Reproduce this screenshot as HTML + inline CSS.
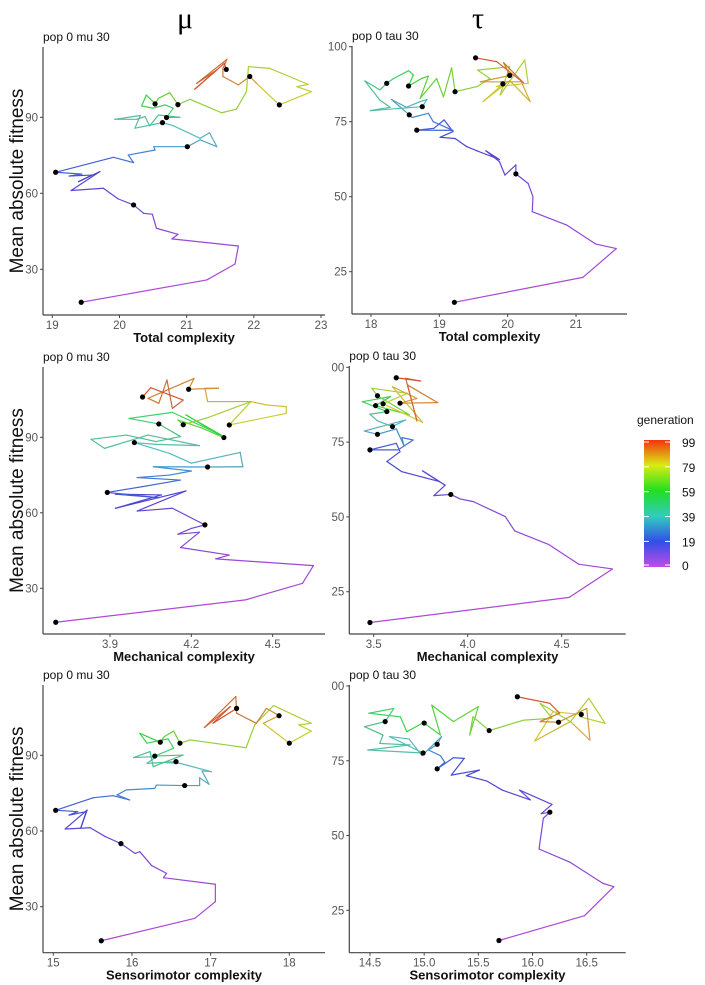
<!DOCTYPE html>
<html><head><meta charset="utf-8"><style>
html,body{margin:0;padding:0;background:#fff;}
svg{display:block;font-family:"Liberation Sans",sans-serif;}
</style></head><body>
<svg id="chart" width="705" height="985" viewBox="0 0 705 985" xmlns="http://www.w3.org/2000/svg">
<defs>
<linearGradient id="gen-grad" x1="0" y1="1" x2="0" y2="0">
<stop offset="0" stop-color="hsl(285,75%,60%)"/>
<stop offset="0.2" stop-color="hsl(230,80%,55%)"/>
<stop offset="0.4" stop-color="hsl(175,60%,50%)"/>
<stop offset="0.6" stop-color="hsl(120,75%,50%)"/>
<stop offset="0.8" stop-color="hsl(65,85%,50%)"/>
<stop offset="1" stop-color="hsl(10,90%,50%)"/>
</linearGradient>
</defs>
<text x="185" y="28" font-size="30" text-anchor="middle" font-family="Liberation Serif, serif">μ</text>
<text x="478" y="28" font-size="30" text-anchor="middle" font-family="Liberation Serif, serif">τ</text>
<g id="panels"></g>
<g>
<text x="637" y="424" font-size="12" fill="#111">generation</text>
<rect x="644" y="440" width="26" height="127" fill="url(#gen-grad)"/>
<g id="legend-labels"></g>
</g>
</svg>
<script>
// ---- Panel A: Total complexity, mu ----
const aX=[19.43,21.30,21.72,21.77,20.78,20.87,20.55,20.49,20.36,20.21,19.98,19.76,19.28,19.71,19.39,19.59,19.25,19.44,19.05,19.91,20.21,20.13,20.53,20.51,21.01,21.20,21.45,21.34,21.20,20.80,20.64,20.23,20.31,19.93,20.26,20.38,20.45,20.58,20.90,20.70,20.80,20.68,20.50,20.33,20.40,20.53,20.58,20.75,20.87,21.05,21.52,21.74,21.89,21.92,22.24,22.81,22.64,22.86,22.38,22.04,21.94,21.77,21.54,21.54,21.60,21.15,21.45,21.12,21.56,21.59];
const aY=[17.0,25.8,32.1,39.2,42.0,43.8,46.2,51.7,52.1,55.4,57.8,62.0,61.1,68.6,64.6,67.2,66.8,67.6,68.3,74.2,72.1,75.1,77.1,78.4,78.4,81.1,78.4,83.9,81.7,86.7,87.9,85.7,90.7,89.2,89.2,90.3,86.6,90.9,90.0,89.9,93.6,94.9,93.6,94.5,98.8,95.3,97.5,99.7,95.0,97.1,91.8,93.2,100.1,110.0,109.3,103.0,102.1,100.1,94.9,103.4,106.1,102.8,106.1,109.3,112.9,103.4,108.7,101.1,111.3,108.9];
const aDots=[0,9,18,24,30,39,45,48,58,60,69];
const aXTicks=[19,20,21,22,23];
const aXLabels=["19","20","21","22","23"];
// ---- Panel B: Total complexity, tau ----
const bX=[19.22,21.10,21.59,21.29,20.86,20.36,20.37,20.30,20.12,20.12,19.96,19.88,19.68,19.88,19.55,19.40,19.23,19.01,19.20,19.07,18.92,18.67,19.20,18.91,18.84,18.60,18.56,18.30,18.52,18.72,18.82,18.75,17.99,18.28,18.13,17.91,18.13,18.23,18.33,18.55,18.62,18.55,18.74,18.84,18.72,18.96,19.06,19.18,19.23,19.55,19.74,19.56,20.03,19.89,20.25,20.30,19.84,19.93,19.64,20.03,20.33,20.20,19.60,20.03,19.94,20.23,19.84,19.53];
const bY=[14.8,23.1,32.7,34.2,40.6,45.0,50.0,54.4,57.6,60.6,57.2,61.7,65.3,62.4,65.3,66.7,69.4,69.8,71.7,75.6,72.8,72.2,72.1,75.0,77.8,76.4,77.3,82.4,79.8,81.7,82.4,80.0,78.7,79.8,82.2,88.6,85.6,87.8,89.4,92.0,90.6,86.9,89.4,90.2,82.8,89.4,83.3,93.0,85.0,86.7,89.4,92.2,93.3,83.9,95.6,87.8,86.7,87.6,81.7,88.7,81.7,88.3,88.3,90.4,94.7,88.0,95.0,96.3];
const bDots=[0,8,21,26,31,37,41,48,57,63,67];
const bXTicks=[18,19,20,21];
const bXLabels=["18","19","20","21"];
// ---- Panel C: Mechanical complexity, mu ----
const cX=[3.70,4.40,4.61,4.65,4.29,4.34,4.16,4.23,4.15,4.20,4.25,4.13,4.00,4.18,3.92,4.09,3.92,4.08,3.89,4.02,4.16,4.00,4.12,4.20,4.06,4.26,4.39,4.38,4.20,4.12,3.99,4.07,4.23,4.04,3.88,3.83,3.96,4.07,4.16,4.08,3.97,4.13,4.31,4.18,4.32,4.24,4.15,4.17,4.26,4.42,4.34,4.55,4.55,4.48,4.42,4.26,4.25,4.30,4.19,4.21,4.04,4.08,4.11,4.13,4.17,4.05,4.02];
const cY=[16.5,25.4,32.0,39.0,41.7,43.2,46.2,52.3,51.5,53.8,55.2,61.8,60.7,68.7,61.8,67.1,67.4,66.0,68.1,70.4,73.0,74.0,75.0,76.6,78.3,78.2,78.3,84.0,79.7,83.6,87.9,87.2,86.7,90.9,85.6,89.2,90.9,88.3,90.3,95.3,97.5,99.9,90.9,98.9,89.9,93.6,96.9,95.0,97.8,104.2,94.9,99.5,102.2,102.8,104.2,104.2,109.5,109.5,109.1,113.4,105.5,103.5,112.8,101.5,104.8,109.7,106.0];
const cDots=[0,10,18,25,30,39,44,47,50,58,66];
const cXTicks=[3.9,4.2,4.5];
const cXLabels=["3.9","4.2","4.5"];
// ---- Panel D: Mechanical complexity, tau ----
const dX=[3.48,4.54,4.77,4.59,4.43,4.25,4.20,4.03,3.96,3.91,3.82,3.88,3.76,3.85,3.65,3.57,3.64,3.62,3.48,3.63,3.71,3.65,3.66,3.62,3.52,3.45,3.67,3.60,3.52,3.48,3.57,3.44,3.59,3.51,3.69,3.52,3.49,3.68,3.55,3.76,3.60,3.73,3.64,3.84,3.68,3.73,3.67,3.75,3.62];
const dY=[14.7,23.1,32.6,34.2,40.8,45.3,50.1,55.1,56.0,57.5,57.1,60.6,65.4,61.8,65.1,68.5,71.8,74.6,72.4,72.4,75.7,76.5,74.0,79.4,77.6,78.7,82.4,80.2,82.1,84.3,85.2,88.5,90.2,87.2,84.1,90.5,93.0,91.3,87.8,81.6,93.5,89.6,88.0,88.2,94.1,82.1,96.3,95.4,96.5];
const dDots=[0,9,18,24,27,30,33,35,38,42,48];
const dXTicks=[3.5,4.0,4.5];
const dXLabels=["3.5","4.0","4.5"];
// ---- Panel E: Sensorimotor complexity, mu ----
const eX=[15.61,16.80,17.06,17.06,16.40,16.44,16.25,16.10,16.04,15.86,15.66,15.47,15.15,15.43,15.35,15.42,15.20,15.31,15.03,15.51,15.76,15.97,15.81,15.93,16.29,16.31,16.67,16.86,16.86,16.98,16.89,17.01,16.61,16.44,16.56,16.19,16.31,16.02,16.23,16.27,16.65,16.29,16.53,16.46,16.19,16.10,16.36,16.41,16.53,16.61,16.74,17.20,17.45,17.56,17.58,17.80,18.28,18.12,18.28,18.00,17.67,17.87,17.71,17.58,17.33,17.32,16.92,17.25,17.03,17.33];
const eY=[16.5,25.4,32.0,38.9,41.5,43.2,46.3,51.8,51.1,55.0,57.8,61.3,60.8,68.3,61.3,67.7,66.3,67.7,68.2,73.2,74.0,72.3,74.3,76.3,76.9,78.2,78.0,78.0,81.1,78.5,83.8,83.5,86.8,87.1,87.5,86.8,89.5,89.1,91.5,85.5,90.1,89.7,92.8,96.5,94.8,98.7,95.2,97.4,99.6,94.8,96.1,94.1,93.0,102.0,102.7,109.7,102.7,102.0,99.6,94.8,102.7,105.7,108.6,102.7,106.7,113.3,101.0,109.3,102.7,108.6];
const eDots=[0,9,18,26,34,41,46,49,59,61,69];
const eXTicks=[15,16,17,18];
const eXLabels=["15","16","17","18"];
// ---- Panel F: Sensorimotor complexity, tau ----
const fX=[15.69,16.48,16.75,16.65,16.35,16.06,16.10,16.16,16.08,16.18,15.88,15.98,15.72,15.58,15.39,15.51,15.25,15.37,15.27,15.12,15.19,15.15,15.04,15.12,15.16,14.98,14.86,14.68,14.99,14.48,14.87,14.59,14.62,14.45,14.64,14.72,14.49,14.78,14.84,15.01,15.00,15.15,15.07,15.27,15.50,15.42,15.45,15.60,15.92,16.18,16.07,16.35,16.52,16.67,16.44,16.45,16.19,16.02,16.35,16.53,16.50,16.24,16.07,16.25,16.16,15.86];
const fY=[14.9,23.2,32.9,34.0,41.0,45.5,55.8,57.8,57.3,60.4,65.2,61.9,65.2,68.2,70.0,71.9,70.2,75.8,76.0,72.3,74.5,76.7,78.6,80.5,83.1,76.7,82.3,83.1,77.6,78.6,80.3,80.8,83.6,86.4,88.1,92.5,90.9,89.7,84.7,88.1,87.6,83.6,93.6,88.1,93.1,83.6,89.7,85.1,88.6,89.2,94.2,88.1,95.9,87.5,89.7,90.5,91.4,81.6,88.1,81.9,92.5,87.9,88.1,90.9,94.2,96.4];
const fDots=[0,7,19,23,28,34,40,47,55,61,65];
const fXTicks=[14.5,15.0,15.5,16.0,16.5];
const fXLabels=["14.5","15.0","15.5","16.0","16.5"];
// shared
const muYTicks=[30,60,90];
const muYLabels=["30","60","90"];
const tauYTicks=[25,50,75,100];
const tauYLabelsTop=["25","50","75","100"];
const tauYLabels=["25","50","75","00"];
const dotGens=[0,10,20,30,40,50,60,70,80,90,99];
const legendGens=[0,19,39,59,79,99];

const NS="http://www.w3.org/2000/svg";
function mk(tag,attrs,parent){const e=document.createElementNS(NS,tag);for(const k in attrs)e.setAttribute(k,attrs[k]);if(parent)parent.appendChild(e);return e;}
function genColor(g){const t=g/99;const sat=(t>0.3&&t<0.5)?45:62;return "hsl("+(285-275*t)+","+sat+"%,"+(56-6*t)+"%)";}

const panels=[
 {id:"total-mu",X:aX,Y:aY,D:aDots,xt:aXTicks,xl:aXLabels,yt:muYTicks,yl:muYLabels,title:"pop 0 mu 30",xtitle:"Total complexity",
  ax:43,ar:325,top:47,bot:315,x0:19,px0:52.3,x1:23,px1:321,y0:90,py0:117.3,y1:30,py1:269.3,ylab:true},
 {id:"total-tau",X:bX,Y:bY,D:bDots,xt:bXTicks,xl:bXLabels,yt:tauYTicks,yl:tauYLabelsTop,title:"pop 0 tau 30",xtitle:"Total complexity",
  ax:352,ar:627,top:46,bot:314,x0:18,px0:371,x1:21,px1:576,y0:100,py0:46.7,y1:25,py1:271.7,ylab:false},
 {id:"mech-mu",X:cX,Y:cY,D:cDots,xt:cXTicks,xl:cXLabels,yt:muYTicks,yl:muYLabels,title:"pop 0 mu 30",xtitle:"Mechanical complexity",
  ax:43,ar:325,top:367,bot:634,x0:3.9,px0:110,x1:4.5,px1:272.7,y0:90,py0:437.3,y1:30,py1:588.3,ylab:true},
 {id:"mech-tau",X:dX,Y:dY,D:dDots,xt:dXTicks,xl:dXLabels,yt:tauYTicks,yl:tauYLabels,title:"pop 0 tau 30",xtitle:"Mechanical complexity",
  ax:349.3,ar:625.7,top:366,bot:634,x0:3.5,px0:373.7,x1:4.5,px1:561.7,y0:100,py0:367.3,y1:25,py1:591.7,ylab:false},
 {id:"sensor-mu",X:eX,Y:eY,D:eDots,xt:eXTicks,xl:eXLabels,yt:muYTicks,yl:muYLabels,title:"pop 0 mu 30",xtitle:"Sensorimotor complexity",
  ax:43,ar:325,top:685,bot:952.7,x0:15,px0:53.3,x1:18,px1:289.3,y0:90,py0:755.3,y1:30,py1:906.7,ylab:true},
 {id:"sensor-tau",X:fX,Y:fY,D:fDots,xt:fXTicks,xl:fXLabels,yt:tauYTicks,yl:tauYLabels,title:"pop 0 tau 30",xtitle:"Sensorimotor complexity",
  ax:349.3,ar:625.7,top:685,bot:952.7,x0:14.5,px0:370,x1:16.5,px1:586.7,y0:100,py0:686,y1:25,py1:910.3,ylab:false}
];

const root=document.getElementById("panels");
panels.forEach(p=>{
  const sx=v=>p.px0+(v-p.x0)*(p.px1-p.px0)/(p.x1-p.x0);
  const sy=v=>p.py0+(v-p.y0)*(p.py1-p.py0)/(p.y1-p.y0);
  const g=mk("g",{},root);
  
  
  const t=mk("text",{x:p.ax,y:p.top-6,"font-size":12,fill:"#111"},g);
  t.textContent=p.title;
  
  
  const ya=mk("line",{x1:p.ax,y1:p.top,x2:p.ax,y2:p.bot,stroke:"#444","stroke-width":1.2},g);
  
  
  const xa=mk("line",{x1:p.ax,y1:p.bot,x2:p.ar,y2:p.bot,stroke:"#444","stroke-width":1.2},g);
  
  
  p.xt.forEach((v,i)=>{
    const x=sx(v);
    mk("line",{x1:x,y1:p.bot,x2:x,y2:p.bot+3,stroke:"#444"},g);
    const l=mk("text",{x:x,y:p.bot+14,"font-size":11.5,fill:"#555","text-anchor":"middle"},g);
    l.textContent=p.xl[i];
    
    
  });
  p.yt.forEach((v,i)=>{
    const y=sy(v);
    mk("line",{x1:p.ax-3,y1:y,x2:p.ax,y2:y,stroke:"#444"},g);
    const l=mk("text",{x:p.ax-5,y:y+4,"font-size":11.5,fill:"#555","text-anchor":"end"},g);
    l.textContent=p.yl[i];
    
    
  });
  const xt=mk("text",{x:(p.ax+p.ar)/2,y:p.bot+27,"font-size":13,"font-weight":"bold",fill:"#111","text-anchor":"middle"},g);
  xt.textContent=p.xtitle;
  
  
  if(p.ylab){
    const cy=(p.top+p.bot)/2;
    const yt=mk("text",{x:0,y:0,"font-size":19,fill:"#111","text-anchor":"middle",transform:"translate(23,"+cy+") rotate(-90)"},g);
    yt.textContent="Mean absolute fitness";
    
    
  }
  const gen=[];
  for(let k=0;k<p.D.length-1;k++){
    const a=p.D[k],b=p.D[k+1];
    for(let i=a;i<b;i++)gen[i]=dotGens[k]+(i-a)/(b-a)*(dotGens[k+1]-dotGens[k]);
  }
  gen[p.D[p.D.length-1]]=99;
  const lg=mk("g",{fill:"none","stroke-width":1.2},g);
  
  
  for(let i=0;i<p.X.length-1;i++){
    const s=mk("line",{x1:sx(p.X[i]),y1:sy(p.Y[i]),x2:sx(p.X[i+1]),y2:sy(p.Y[i+1]),stroke:genColor((gen[i]+gen[i+1])/2),"stroke-linecap":"round"},lg);
    
    
  }
  p.D.forEach(i=>{
    const c=mk("circle",{cx:sx(p.X[i]),cy:sy(p.Y[i]),r:2.6,fill:"#000"},g);
    
    
  });
});
const ll=document.getElementById("legend-labels");
legendGens.forEach(v=>{
  const y=565-v/99*123;
  mk("line",{x1:644,y1:y,x2:649,y2:y,stroke:"#fff","stroke-width":1},ll);
  mk("line",{x1:665,y1:y,x2:670,y2:y,stroke:"#fff","stroke-width":1},ll);
  const t=mk("text",{x:682,y:y+5,"font-size":12,fill:"#111"},ll);
  t.textContent=String(v);
  
  
});
</script>
</body></html>
